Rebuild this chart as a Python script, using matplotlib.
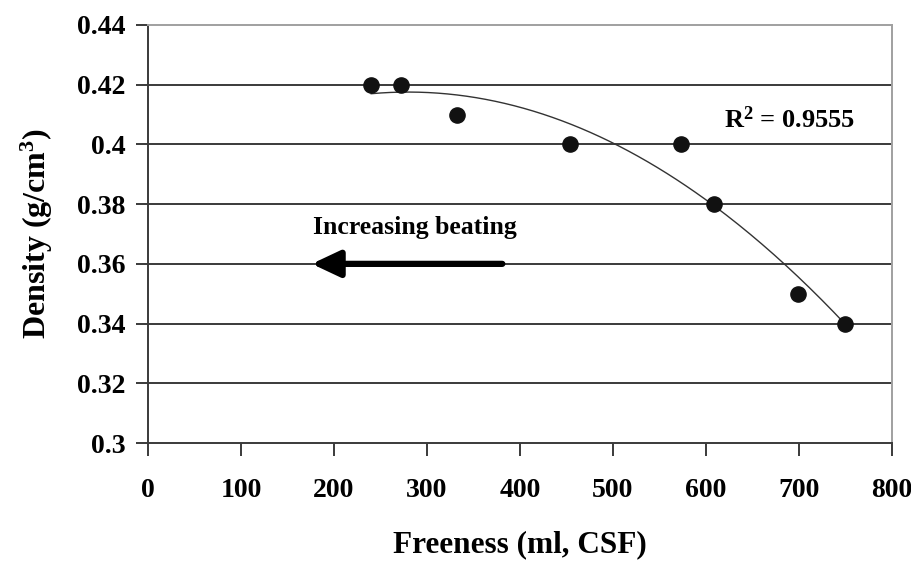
import numpy as np
import matplotlib
matplotlib.use("Agg")
import matplotlib.pyplot as plt

# freeness (ml CSF) vs sheet density (g/cm3)
freeness = [240, 272, 332, 454, 573, 609, 699, 750]
density = [0.42, 0.42, 0.41, 0.40, 0.40, 0.38, 0.35, 0.34]
x_ticks = [0, 100, 200, 300, 400, 500, 600, 700, 800]
y_ticks = [0.3, 0.32, 0.34, 0.36, 0.38, 0.4, 0.42, 0.44]
y_tick_labels = ["0.3", "0.32", "0.34", "0.36", "0.38", "0.4", "0.42", "0.44"]
r2_text = "R$^2$ = 0.9555"

plt.rcParams['font.family'] = ['Liberation Serif', 'DejaVu Serif']
plt.rcParams['mathtext.fontset'] = 'custom'
plt.rcParams['mathtext.rm'] = 'Liberation Serif:bold'
plt.rcParams['mathtext.it'] = 'Liberation Serif:bold'

fig = plt.figure(figsize=(9.12, 5.64), dpi=100)
ax = fig.add_axes([0.1623, 0.2145, 0.8157, 0.7412])

ax.set_xlim(0, 800)
ax.set_ylim(0.3, 0.44)

# horizontal grid
for yv in y_ticks[1:-1]:
    ax.axhline(yv, color='#3a3a3a', lw=1.4, zorder=1)

# polynomial (order 2) trendline like the spreadsheet one
coef = np.polyfit(freeness, density, 2)
xs = np.linspace(min(freeness), max(freeness), 200)
ax.plot(xs, np.polyval(coef, xs), color='#333333', lw=1.0, zorder=2)

ax.scatter(freeness, density, s=120, color='#111111', zorder=3)

ax.text(690, 0.4082, r2_text, fontsize=19, fontweight='bold', ha='center', va='center')
ax.text(287, 0.3722, "Increasing beating", fontsize=18.5, fontweight='bold', ha='center', va='center')
ax.annotate("", xy=(176, 0.36), xytext=(381, 0.36),
            arrowprops=dict(arrowstyle='-|>,head_length=1.7,head_width=0.8', lw=4.5,
                            color='black', shrinkA=0, shrinkB=0))

ax.set_xticks(x_ticks)
ax.set_yticks(y_ticks)
ax.set_yticklabels(y_tick_labels)
ax.tick_params(axis='both', direction='out', length=9, width=1.4, color='#3a3a3a',
               labelsize=20, pad=7)
for lab in ax.get_xticklabels() + ax.get_yticklabels():
    lab.set_fontweight('bold')
ax.tick_params(axis='x', pad=16)

for side in ['left', 'bottom']:
    ax.spines[side].set_color('#3a3a3a')
    ax.spines[side].set_linewidth(1.4)
for side in ['top', 'right']:
    ax.spines[side].set_color('#a0a0a0')
    ax.spines[side].set_linewidth(1.4)

ax.set_xlabel("Freeness (ml, CSF)", fontsize=22.5, fontweight='bold', labelpad=20)
ax.set_ylabel("Density (g/cm$^3$)", fontsize=23, fontweight='bold', labelpad=16)

fig.savefig("out.png", dpi=100)
